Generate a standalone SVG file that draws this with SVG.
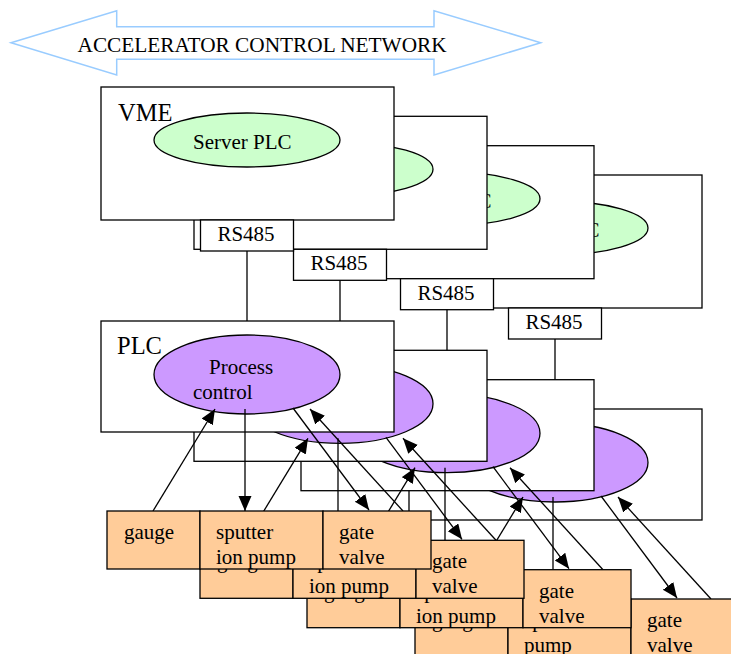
<svg xmlns="http://www.w3.org/2000/svg" width="731" height="654" viewBox="0 0 731 654">
<style>
text{font-family:"Liberation Serif","Times New Roman",serif;font-size:21px;fill:#000}
.box{fill:#fff;stroke:#000;stroke-width:1.3}
.obox{fill:#ffcc99;stroke:#000;stroke-width:1.3}
.srv{fill:#ccffcc;stroke:#000;stroke-width:1.3}
.prc{fill:#cc99ff;stroke:#000;stroke-width:1.3}
.big{font-size:24.5px}
.mid{text-anchor:middle}
.ln{stroke:#000;stroke-width:1.3;fill:none}
.ar{stroke:#000;stroke-width:1.3;fill:none;marker-end:url(#ah)}
</style>
<defs>
<marker id="ah" markerUnits="userSpaceOnUse" markerWidth="16" markerHeight="14" refX="15" refY="6.5" orient="auto"><path d="M0,0 L15,6.5 L0,13 z" fill="#000"/></marker>
</defs>
<g id="network">
<polygon points="11,42.7 116.7,10.7 116.7,26.7 434,26.7 434,10.7 540.7,42.7 434,75 434,59.3 116.7,59.3 116.7,75" fill="#fff" stroke="#99ccff" stroke-width="1.5"/>
<text x="77.5" y="52.3" style="font-size:21.3px">ACCELERATOR CONTROL NETWORK</text>
</g>

<!-- layer 3 (back) -->
<g id="layer3" transform="translate(308,88)">
<g id="vme-3"><rect class="box" x="101" y="87" width="293" height="133"/><ellipse class="srv" cx="247" cy="140" rx="93" ry="27"/><text x="193" y="149">Server PLC</text></g>
<g id="rs485-3"><rect class="box" x="200.5" y="220" width="93" height="31"/><text class="mid" x="246" y="241">RS485</text></g>
<g id="plc-3"><rect class="box" x="101" y="321" width="293" height="111"/><ellipse class="prc" cx="247" cy="374.5" rx="93" ry="39.5"/></g>
<g id="connectors-3"><line class="ln" x1="247" y1="251" x2="247" y2="321"/><path class="ar" d="M153,511 L215,409"/><path class="ar" d="M245,409 L245,511"/><path class="ar" d="M293,408 L369,510"/><path class="ar" d="M403,511 L310,409"/></g>
<g id="gauge-3"><rect class="obox" x="107" y="511" width="93" height="58"/><text x="124" y="539">gauge</text></g>
<g id="sputter-3"><rect class="obox" x="200" y="511" width="123" height="58"/><text x="216" y="539">sputter ion</text><text x="216" y="564">pump</text></g>
<g id="gate-3"><rect class="obox" x="323" y="511" width="108" height="58"/><text x="339" y="539">gate</text><text x="339" y="564">valve</text></g>
</g>

<!-- layer 2 -->
<g id="layer2" transform="translate(200,58.7)">
<g id="vme-2"><rect class="box" x="101" y="87" width="293" height="133"/><ellipse class="srv" cx="247" cy="140" rx="93" ry="27"/><text x="193" y="149">Server PLC</text></g>
<g id="rs485-2"><rect class="box" x="200.5" y="220" width="93" height="31"/><text class="mid" x="246" y="241">RS485</text></g>
<g id="plc-2"><rect class="box" x="101" y="321" width="293" height="111"/><ellipse class="prc" cx="247" cy="374.5" rx="93" ry="39.5"/></g>
<g id="connectors-2"><line class="ln" x1="247" y1="251" x2="247" y2="321"/><path class="ar" d="M153,511 L215,409"/><path class="ar" d="M245,409 L245,511"/><path class="ar" d="M293,408 L369,510"/><path class="ar" d="M403,511 L310,409"/></g>
<g id="gauge-2"><rect class="obox" x="107" y="511" width="93" height="58"/><text x="124" y="539">gauge</text></g>
<g id="sputter-2"><rect class="obox" x="200" y="511" width="123" height="58"/><text x="216" y="539">sputter</text><text x="216" y="564">ion pump</text></g>
<g id="gate-2"><rect class="obox" x="323" y="511" width="108" height="58"/><text x="339" y="539">gate</text><text x="339" y="564">valve</text></g>
</g>

<!-- layer 1 -->
<g id="layer1" transform="translate(93,29.3)">
<g id="vme-1"><rect class="box" x="101" y="87" width="293" height="133"/><ellipse class="srv" cx="247" cy="140" rx="93" ry="27"/></g>
<g id="rs485-1"><rect class="box" x="200.5" y="220" width="93" height="31"/><text class="mid" x="246" y="241">RS485</text></g>
<g id="plc-1"><rect class="box" x="101" y="321" width="293" height="111"/><ellipse class="prc" cx="247" cy="374.5" rx="93" ry="39.5"/></g>
<g id="connectors-1"><line class="ln" x1="247" y1="251" x2="247" y2="321"/><path class="ar" d="M153,511 L215,409"/><path class="ar" d="M245,409 L245,511"/><path class="ar" d="M293,408 L369,510"/><path class="ar" d="M403,511 L310,409"/></g>
<g id="gauge-1"><rect class="obox" x="107" y="511" width="93" height="58"/><text x="124" y="539">gauge</text></g>
<g id="sputter-1"><rect class="obox" x="200" y="511" width="123" height="58"/><text x="216" y="539">sputter</text><text x="216" y="564">ion pump</text></g>
<g id="gate-1"><rect class="obox" x="323" y="511" width="108" height="58"/><text x="339" y="539">gate</text><text x="339" y="564">valve</text></g>
</g>

<!-- layer 0 (front) -->
<g id="layer0">
<g id="vme-0"><rect class="box" x="101" y="87" width="293" height="133"/><text class="big" x="118" y="121">VME</text><ellipse class="srv" cx="247" cy="140" rx="93" ry="27"/><text x="193" y="149">Server PLC</text></g>
<g id="rs485-0"><rect class="box" x="200.5" y="220" width="93" height="31"/><text class="mid" x="246" y="241">RS485</text></g>
<g id="plc-0"><rect class="box" x="101" y="321" width="293" height="111"/><text class="big" x="117" y="354">PLC</text><ellipse class="prc" cx="247" cy="374.5" rx="93" ry="39.5"/><text x="209" y="374">Process</text><text x="193" y="399">control</text></g>
<g id="connectors-0"><line class="ln" x1="247" y1="251" x2="247" y2="321"/><path class="ar" d="M153,511 L215,409"/><path class="ar" d="M245,409 L245,511"/><path class="ar" d="M293,408 L369,510"/><path class="ar" d="M403,511 L310,409"/></g>
<g id="gauge-0"><rect class="obox" x="107" y="511" width="93" height="58"/><text x="124" y="539">gauge</text></g>
<g id="sputter-0"><rect class="obox" x="200" y="511" width="123" height="58"/><text x="216" y="539">sputter</text><text x="216" y="564">ion pump</text></g>
<g id="gate-0"><rect class="obox" x="323" y="511" width="108" height="58"/><text x="339" y="539">gate</text><text x="339" y="564">valve</text></g>
</g>
</svg>
